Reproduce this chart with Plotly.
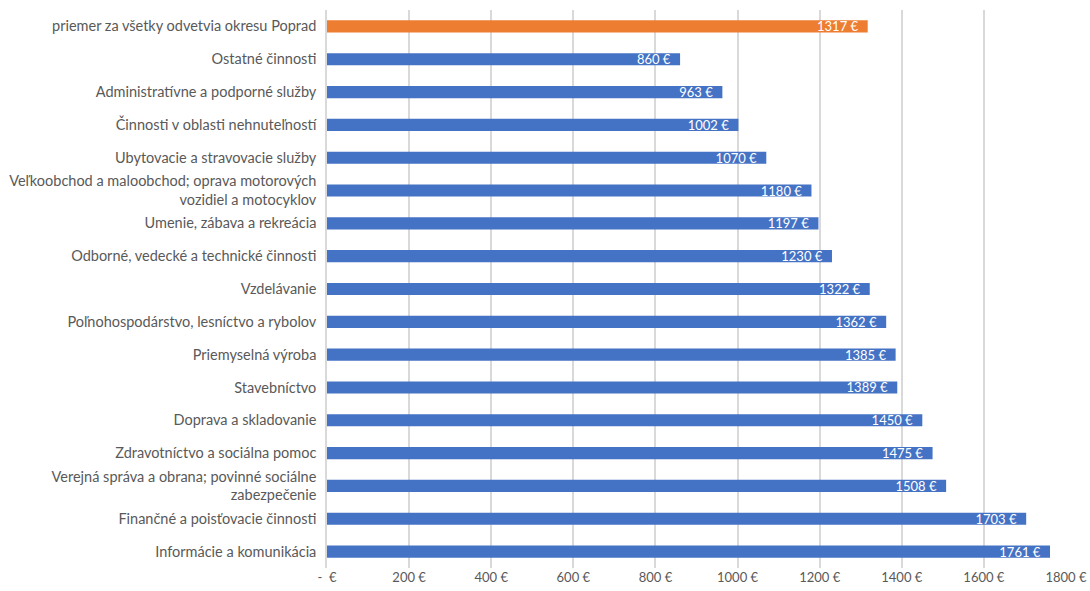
import plotly.graph_objects as go

categories = [
    "priemer za všetky odvetvia okresu Poprad",
    "Ostatné činnosti",
    "Administratívne a podporné služby",
    "Činnosti v oblasti nehnuteľností",
    "Ubytovacie a stravovacie služby",
    "Veľkoobchod a maloobchod; oprava motorových<br>vozidiel a motocyklov",
    "Umenie, zábava a rekreácia",
    "Odborné, vedecké a technické činnosti",
    "Vzdelávanie",
    "Poľnohospodárstvo, lesníctvo a rybolov",
    "Priemyselná výroba",
    "Stavebníctvo",
    "Doprava a skladovanie",
    "Zdravotníctvo a sociálna pomoc",
    "Verejná správa a obrana; povinné sociálne<br>zabezpečenie",
    "Finančné a poisťovacie činnosti",
    "Informácie a komunikácia",
]
values = [1317, 860, 963, 1002, 1070, 1180, 1197, 1230, 1322, 1362, 1385, 1389, 1450, 1475, 1508, 1703, 1761]
tick_vals = [0, 200, 400, 600, 800, 1000, 1200, 1400, 1600, 1800]
tick_text = ["-  €", "200 €", "400 €", "600 €", "800 €", "1000 €", "1200 €", "1400 €", "1600 €", "1800 €"]

colors = ["#ED7D31"] + ["#4472C4"] * (len(values) - 1)
labels = [f"{v} €\u00a0\u00a0" for v in values]

fig = go.Figure(go.Bar(
    x=values, y=categories, orientation="h",
    marker=dict(color=colors, line=dict(width=0)),
    width=0.37,
    text=labels, textposition="inside", insidetextanchor="end",
    textfont=dict(color="white", size=13, family="Lato"),
    constraintext="none",
    hoverinfo="skip",
))

fig.update_layout(
    width=1090, height=591,
    margin=dict(l=327, r=24, t=10, b=23, autoexpand=False),
    paper_bgcolor="white", plot_bgcolor="white",
    font=dict(family="Lato", size=13, color="#595959"),
    showlegend=False,
    bargap=0.63,
)
fig.update_xaxes(
    range=[0, 1800], tickvals=tick_vals, ticktext=tick_text,
    showgrid=True, gridcolor="#D9D9D9", gridwidth=1.5,
    zeroline=False, showline=False, ticks="", automargin=False,
    tickfont=dict(size=13, color="#595959"),
)
fig.update_yaxes(
    autorange="reversed", showgrid=False, zeroline=False,
    showline=True, linecolor="#D9D9D9", linewidth=1.5,
    ticks="", ticklabelstandoff=6, automargin=False,
    tickfont=dict(size=14.5, color="#595959"),
)

fig.write_html(
    "out.html",
    config={"displayModeBar": False},
    post_script="document.body.style.margin='0';document.body.style.overflow='hidden';",
)
